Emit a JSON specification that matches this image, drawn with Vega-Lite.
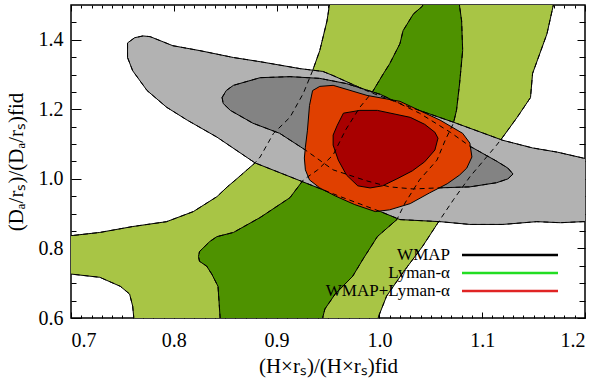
{
  "$schema": "https://vega.github.io/schema/vega-lite/v6.json",
  "width": 514,
  "height": 313,
  "autosize": {"type": "none"},
  "padding": {"left": 71, "top": 5, "right": 15, "bottom": 61},
  "config": {
    "view": {"stroke": "black", "strokeWidth": 1.5},
    "axis": {"grid": false, "domain": false, "zindex": 1, "labelFont": "Liberation Serif", "titleFont": "Liberation Serif", "labelFontSize": 20, "titleFontSize": 21, "titleFontWeight": "normal", "labelColor": "black", "titleColor": "black", "tickColor": "black", "tickWidth": 1},
    "legend": {"orient": "none", "legendX": 429.5, "legendY": 240.5, "padding": 0, "symbolType": "M-6,0H6", "symbolSize": 256, "symbolStrokeWidth": 2.5, "rowPadding": -2, "labelFont": "Liberation Serif", "labelFontSize": 17, "labelColor": "black", "labelAlign": "right", "labelOffset": -69.5, "labelLimit": 0, "symbolOpacity": 1}
  },
  "datasets": {
    "c": [
      {"g":"LG","i":0,"x":0.761,"y":0.569},{"g":"LG","i":1,"x":0.761,"y":0.603},{"g":"LG","i":2,"x":0.760,"y":0.634},{"g":"LG","i":3,"x":0.757,"y":0.669},{"g":"LG","i":4,"x":0.748,"y":0.691},{"g":"LG","i":5,"x":0.728,"y":0.717},{"g":"LG","i":6,"x":0.701,"y":0.726},{"g":"LG","i":7,"x":0.689,"y":0.729},{"g":"LG","i":8,"x":0.689,"y":0.837},{"g":"LG","i":9,"x":0.701,"y":0.837},{"g":"LG","i":10,"x":0.728,"y":0.846},{"g":"LG","i":11,"x":0.760,"y":0.863},{"g":"LG","i":12,"x":0.793,"y":0.877},{"g":"LG","i":13,"x":0.819,"y":0.906},{"g":"LG","i":14,"x":0.842,"y":0.949},{"g":"LG","i":15,"x":0.852,"y":0.977},{"g":"LG","i":16,"x":0.860,"y":0.997},{"g":"LG","i":17,"x":0.879,"y":1.046},{"g":"LG","i":18,"x":0.884,"y":1.063},{"g":"LG","i":19,"x":0.897,"y":1.131},{"g":"LG","i":20,"x":0.913,"y":1.177},{"g":"LG","i":21,"x":0.926,"y":1.246},{"g":"LG","i":22,"x":0.935,"y":1.311},{"g":"LG","i":23,"x":0.942,"y":1.369},{"g":"LG","i":24,"x":0.949,"y":1.454},{"g":"LG","i":25,"x":0.952,"y":1.511},{"g":"LG","i":26,"x":0.953,"y":1.554},{"g":"LG","i":27,"x":1.172,"y":1.554},{"g":"LG","i":28,"x":1.169,"y":1.497},{"g":"LG","i":29,"x":1.163,"y":1.417},{"g":"LG","i":30,"x":1.149,"y":1.303},{"g":"LG","i":31,"x":1.147,"y":1.234},{"g":"LG","i":32,"x":1.134,"y":1.177},{"g":"LG","i":33,"x":1.120,"y":1.120},{"g":"LG","i":34,"x":1.114,"y":1.097},{"g":"LG","i":35,"x":1.088,"y":1.006},{"g":"LG","i":36,"x":1.072,"y":0.940},{"g":"LG","i":37,"x":1.059,"y":0.883},{"g":"LG","i":38,"x":1.042,"y":0.806},{"g":"LG","i":39,"x":1.023,"y":0.731},{"g":"LG","i":40,"x":1.007,"y":0.663},{"g":"LG","i":41,"x":0.999,"y":0.603},{"g":"LG","i":42,"x":0.997,"y":0.569},{"g":"LG","i":43,"x":0.761,"y":0.569},
      {"g":"DG","i":0,"x":1.042,"y":1.554},{"g":"DG","i":1,"x":1.042,"y":1.497},{"g":"DG","i":2,"x":1.033,"y":1.474},{"g":"DG","i":3,"x":1.023,"y":1.426},{"g":"DG","i":4,"x":1.020,"y":1.389},{"g":"DG","i":5,"x":1.010,"y":1.331},{"g":"DG","i":6,"x":1.004,"y":1.303},{"g":"DG","i":7,"x":0.993,"y":1.249},{"g":"DG","i":8,"x":0.981,"y":1.206},{"g":"DG","i":9,"x":0.967,"y":1.140},{"g":"DG","i":10,"x":0.955,"y":1.069},{"g":"DG","i":11,"x":0.940,"y":1.026},{"g":"DG","i":12,"x":0.926,"y":0.997},{"g":"DG","i":13,"x":0.913,"y":0.946},{"g":"DG","i":14,"x":0.884,"y":0.889},{"g":"DG","i":15,"x":0.858,"y":0.846},{"g":"DG","i":16,"x":0.842,"y":0.834},{"g":"DG","i":17,"x":0.835,"y":0.820},{"g":"DG","i":18,"x":0.825,"y":0.791},{"g":"DG","i":19,"x":0.824,"y":0.777},{"g":"DG","i":20,"x":0.825,"y":0.763},{"g":"DG","i":21,"x":0.832,"y":0.749},{"g":"DG","i":22,"x":0.837,"y":0.726},{"g":"DG","i":23,"x":0.843,"y":0.691},{"g":"DG","i":24,"x":0.845,"y":0.603},{"g":"DG","i":25,"x":0.845,"y":0.569},{"g":"DG","i":26,"x":0.945,"y":0.569},{"g":"DG","i":27,"x":0.945,"y":0.603},{"g":"DG","i":28,"x":0.947,"y":0.626},{"g":"DG","i":29,"x":0.957,"y":0.669},{"g":"DG","i":30,"x":0.974,"y":0.720},{"g":"DG","i":31,"x":0.984,"y":0.769},{"g":"DG","i":32,"x":0.998,"y":0.834},{"g":"DG","i":33,"x":1.017,"y":0.883},{"g":"DG","i":34,"x":1.025,"y":0.931},{"g":"DG","i":35,"x":1.039,"y":0.997},{"g":"DG","i":36,"x":1.056,"y":1.054},{"g":"DG","i":37,"x":1.064,"y":1.111},{"g":"DG","i":38,"x":1.072,"y":1.160},{"g":"DG","i":39,"x":1.075,"y":1.197},{"g":"DG","i":40,"x":1.078,"y":1.274},{"g":"DG","i":41,"x":1.081,"y":1.369},{"g":"DG","i":42,"x":1.080,"y":1.454},{"g":"DG","i":43,"x":1.078,"y":1.497},{"g":"DG","i":44,"x":1.077,"y":1.554},{"g":"DG","i":45,"x":1.042,"y":1.554},
      {"g":"LGr","i":0,"x":0.755,"y":1.349},{"g":"LGr","i":1,"x":0.755,"y":1.391},{"g":"LGr","i":2,"x":0.762,"y":1.406},{"g":"LGr","i":3,"x":0.770,"y":1.411},{"g":"LGr","i":4,"x":0.777,"y":1.409},{"g":"LGr","i":5,"x":0.799,"y":1.383},{"g":"LGr","i":6,"x":0.825,"y":1.369},{"g":"LGr","i":7,"x":0.858,"y":1.349},{"g":"LGr","i":8,"x":0.884,"y":1.337},{"g":"LGr","i":9,"x":0.923,"y":1.317},{"g":"LGr","i":10,"x":0.945,"y":1.309},{"g":"LGr","i":11,"x":0.955,"y":1.297},{"g":"LGr","i":12,"x":0.991,"y":1.249},{"g":"LGr","i":13,"x":1.030,"y":1.206},{"g":"LGr","i":14,"x":1.072,"y":1.163},{"g":"LGr","i":15,"x":1.120,"y":1.111},{"g":"LGr","i":16,"x":1.149,"y":1.089},{"g":"LGr","i":17,"x":1.173,"y":1.077},{"g":"LGr","i":18,"x":1.198,"y":1.060},{"g":"LGr","i":19,"x":1.215,"y":1.051},{"g":"LGr","i":20,"x":1.215,"y":0.877},{"g":"LGr","i":21,"x":1.198,"y":0.877},{"g":"LGr","i":22,"x":1.176,"y":0.874},{"g":"LGr","i":23,"x":1.153,"y":0.877},{"g":"LGr","i":24,"x":1.120,"y":0.869},{"g":"LGr","i":25,"x":1.088,"y":0.869},{"g":"LGr","i":26,"x":1.059,"y":0.877},{"g":"LGr","i":27,"x":1.020,"y":0.883},{"g":"LGr","i":28,"x":1.001,"y":0.906},{"g":"LGr","i":29,"x":0.962,"y":0.949},{"g":"LGr","i":30,"x":0.926,"y":0.991},{"g":"LGr","i":31,"x":0.879,"y":1.046},{"g":"LGr","i":32,"x":0.842,"y":1.120},{"g":"LGr","i":33,"x":0.813,"y":1.169},{"g":"LGr","i":34,"x":0.793,"y":1.206},{"g":"LGr","i":35,"x":0.774,"y":1.254},{"g":"LGr","i":36,"x":0.760,"y":1.311},{"g":"LGr","i":37,"x":0.755,"y":1.349},
      {"g":"DGr","i":0,"x":0.847,"y":1.234},{"g":"DGr","i":1,"x":0.851,"y":1.254},{"g":"DGr","i":2,"x":0.858,"y":1.269},{"g":"DGr","i":3,"x":0.884,"y":1.291},{"g":"DGr","i":4,"x":0.913,"y":1.294},{"g":"DGr","i":5,"x":0.942,"y":1.289},{"g":"DGr","i":6,"x":0.968,"y":1.274},{"g":"DGr","i":7,"x":1.001,"y":1.243},{"g":"DGr","i":8,"x":1.039,"y":1.189},{"g":"DGr","i":9,"x":1.069,"y":1.134},{"g":"DGr","i":10,"x":1.088,"y":1.094},{"g":"DGr","i":11,"x":1.114,"y":1.051},{"g":"DGr","i":12,"x":1.125,"y":1.031},{"g":"DGr","i":13,"x":1.130,"y":1.014},{"g":"DGr","i":14,"x":1.125,"y":1.000},{"g":"DGr","i":15,"x":1.114,"y":0.989},{"g":"DGr","i":16,"x":1.088,"y":0.977},{"g":"DGr","i":17,"x":1.056,"y":0.974},{"g":"DGr","i":18,"x":1.033,"y":0.971},{"g":"DGr","i":19,"x":1.010,"y":0.977},{"g":"DGr","i":20,"x":0.988,"y":0.994},{"g":"DGr","i":21,"x":0.955,"y":1.026},{"g":"DGr","i":22,"x":0.928,"y":1.083},{"g":"DGr","i":23,"x":0.903,"y":1.131},{"g":"DGr","i":24,"x":0.877,"y":1.160},{"g":"DGr","i":25,"x":0.855,"y":1.197},{"g":"DGr","i":26,"x":0.848,"y":1.217},{"g":"DGr","i":27,"x":0.847,"y":1.234},
      {"g":"OR","i":0,"x":0.935,"y":1.254},{"g":"OR","i":1,"x":0.942,"y":1.266},{"g":"OR","i":2,"x":0.955,"y":1.269},{"g":"OR","i":3,"x":0.988,"y":1.240},{"g":"OR","i":4,"x":1.020,"y":1.223},{"g":"OR","i":5,"x":1.059,"y":1.169},{"g":"OR","i":6,"x":1.081,"y":1.131},{"g":"OR","i":7,"x":1.088,"y":1.103},{"g":"OR","i":8,"x":1.090,"y":1.063},{"g":"OR","i":9,"x":1.085,"y":1.031},{"g":"OR","i":10,"x":1.078,"y":1.011},{"g":"OR","i":11,"x":1.066,"y":0.986},{"g":"OR","i":12,"x":1.049,"y":0.960},{"g":"OR","i":13,"x":1.030,"y":0.929},{"g":"OR","i":14,"x":1.010,"y":0.911},{"g":"OR","i":15,"x":0.996,"y":0.906},{"g":"OR","i":16,"x":0.976,"y":0.926},{"g":"OR","i":17,"x":0.957,"y":0.951},{"g":"OR","i":18,"x":0.942,"y":0.974},{"g":"OR","i":19,"x":0.932,"y":0.997},{"g":"OR","i":20,"x":0.928,"y":1.026},{"g":"OR","i":21,"x":0.927,"y":1.060},{"g":"OR","i":22,"x":0.928,"y":1.091},{"g":"OR","i":23,"x":0.930,"y":1.140},{"g":"OR","i":24,"x":0.932,"y":1.211},{"g":"OR","i":25,"x":0.935,"y":1.254},
      {"g":"DR","i":0,"x":0.965,"y":1.189},{"g":"DR","i":1,"x":0.981,"y":1.197},{"g":"DR","i":2,"x":0.998,"y":1.197},{"g":"DR","i":3,"x":1.030,"y":1.177},{"g":"DR","i":4,"x":1.044,"y":1.157},{"g":"DR","i":5,"x":1.054,"y":1.134},{"g":"DR","i":6,"x":1.057,"y":1.117},{"g":"DR","i":7,"x":1.054,"y":1.083},{"g":"DR","i":8,"x":1.044,"y":1.049},{"g":"DR","i":9,"x":1.032,"y":1.023},{"g":"DR","i":10,"x":1.017,"y":1.000},{"g":"DR","i":11,"x":1.003,"y":0.980},{"g":"DR","i":12,"x":0.991,"y":0.974},{"g":"DR","i":13,"x":0.979,"y":0.980},{"g":"DR","i":14,"x":0.968,"y":1.011},{"g":"DR","i":15,"x":0.960,"y":1.054},{"g":"DR","i":16,"x":0.955,"y":1.097},{"g":"DR","i":17,"x":0.955,"y":1.126},{"g":"DR","i":18,"x":0.959,"y":1.154},{"g":"DR","i":19,"x":0.965,"y":1.189}
    ],
    "legend": [{"series": "WMAP"}, {"series": "Lyman-α"}, {"series": "WMAP+Lyman-α"}]
  },
  "resolve": {"axis": {"x": "independent", "y": "independent"}},
  "layer": [
    {
      "data": {"name": "c"},
      "transform": [{"filter": "datum.g == 'LG'"}],
      "mark": {"type": "line", "fill": "#a8c545", "stroke": "black", "strokeWidth": 1, "clip": true},
      "encoding": {
        "x": {"field": "x", "type": "quantitative", "scale": {"domain": [0.7, 1.2], "nice": false, "zero": false},
              "axis": {"orient": "bottom", "values": [0.7, 0.8, 0.9, 1.0, 1.1, 1.2], "format": ".1f", "offset": -6, "tickSize": 6, "labelPadding": 12, "title": "(H×rₛ)/(H×rₛ)fid", "titlePadding": 5}},
        "y": {"field": "y", "type": "quantitative", "scale": {"domain": [0.6, 1.5], "nice": false, "zero": false},
              "axis": {"orient": "left", "values": [0.6, 0.8, 1.0, 1.2, 1.4], "format": ".1f", "offset": -10, "tickSize": 10, "labelPadding": 8, "title": "(Dₐ/rₛ)/(Dₐ/rₛ)fid", "titlePadding": 12}},
        "order": {"field": "i", "type": "quantitative"}
      }
    },
    {
      "data": {"name": "c"},
      "transform": [{"filter": "datum.g == 'DG'"}],
      "mark": {"type": "line", "fill": "#4e9200", "stroke": "black", "strokeWidth": 1, "clip": true},
      "encoding": {
        "x": {"field": "x", "type": "quantitative", "scale": {"domain": [0.7, 1.2], "nice": false, "zero": false},
              "axis": {"orient": "bottom", "values": [0.71,0.72,0.73,0.74,0.75,0.76,0.77,0.78,0.79,0.81,0.82,0.83,0.84,0.85,0.86,0.87,0.88,0.89,0.91,0.92,0.93,0.94,0.95,0.96,0.97,0.98,0.99,1.01,1.02,1.03,1.04,1.05,1.06,1.07,1.08,1.09,1.11,1.12,1.13,1.14,1.15,1.16,1.17,1.18,1.19], "labels": false, "offset": -3, "tickSize": 3, "title": null}},
        "y": {"field": "y", "type": "quantitative", "scale": {"domain": [0.6, 1.5], "nice": false, "zero": false},
              "axis": {"orient": "left", "values": [0.65,0.7,0.75,0.85,0.9,0.95,1.05,1.1,1.15,1.25,1.3,1.35,1.45], "labels": false, "offset": -5, "tickSize": 5, "title": null}},
        "order": {"field": "i", "type": "quantitative"}
      }
    },
    {
      "data": {"name": "c"},
      "transform": [{"filter": "datum.g == 'LGr'"}],
      "mark": {"type": "line", "fill": "#b2b2b2", "stroke": "black", "strokeWidth": 1, "clip": true},
      "encoding": {
        "x": {"field": "x", "type": "quantitative", "scale": {"domain": [0.7, 1.2], "nice": false, "zero": false},
              "axis": {"orient": "top", "values": [0.7, 0.8, 0.9, 1.0, 1.1, 1.2], "labels": false, "offset": -6, "tickSize": 6, "title": null}},
        "y": {"field": "y", "type": "quantitative", "scale": {"domain": [0.6, 1.5], "nice": false, "zero": false},
              "axis": {"orient": "right", "values": [0.6, 0.8, 1.0, 1.2, 1.4], "labels": false, "offset": -8, "tickSize": 8, "title": null}},
        "order": {"field": "i", "type": "quantitative"}
      }
    },
    {
      "data": {"name": "c"},
      "transform": [{"filter": "datum.g == 'DGr'"}],
      "mark": {"type": "line", "fill": "#838383", "stroke": "black", "strokeWidth": 1, "clip": true},
      "encoding": {
        "x": {"field": "x", "type": "quantitative", "scale": {"domain": [0.7, 1.2], "nice": false, "zero": false},
              "axis": {"orient": "top", "values": [0.71,0.72,0.73,0.74,0.75,0.76,0.77,0.78,0.79,0.81,0.82,0.83,0.84,0.85,0.86,0.87,0.88,0.89,0.91,0.92,0.93,0.94,0.95,0.96,0.97,0.98,0.99,1.01,1.02,1.03,1.04,1.05,1.06,1.07,1.08,1.09,1.11,1.12,1.13,1.14,1.15,1.16,1.17,1.18,1.19], "labels": false, "offset": -3, "tickSize": 3, "title": null}},
        "y": {"field": "y", "type": "quantitative", "scale": {"domain": [0.6, 1.5], "nice": false, "zero": false},
              "axis": {"orient": "right", "values": [0.65,0.7,0.75,0.85,0.9,0.95,1.05,1.1,1.15,1.25,1.3,1.35,1.45], "labels": false, "offset": -6, "tickSize": 6, "title": null}},
        "order": {"field": "i", "type": "quantitative"}
      }
    },
    {
      "data": {"name": "c"},
      "transform": [{"filter": "datum.g == 'OR'"}],
      "mark": {"type": "line", "fill": "#e04000", "stroke": "black", "strokeWidth": 1, "clip": true},
      "encoding": {
        "x": {"field": "x", "type": "quantitative", "scale": {"domain": [0.7, 1.2], "nice": false, "zero": false}, "axis": null},
        "y": {"field": "y", "type": "quantitative", "scale": {"domain": [0.6, 1.5], "nice": false, "zero": false}, "axis": null},
        "order": {"field": "i", "type": "quantitative"}
      }
    },
    {
      "data": {"name": "c"},
      "transform": [{"filter": "datum.g == 'DR'"}],
      "mark": {"type": "line", "fill": "#a80000", "stroke": "black", "strokeWidth": 1, "clip": true},
      "encoding": {
        "x": {"field": "x", "type": "quantitative", "scale": {"domain": [0.7, 1.2], "nice": false, "zero": false}, "axis": null},
        "y": {"field": "y", "type": "quantitative", "scale": {"domain": [0.6, 1.5], "nice": false, "zero": false}, "axis": null},
        "order": {"field": "i", "type": "quantitative"}
      }
    },
    {
      "data": {"name": "c"},
      "transform": [{"filter": "datum.g == 'LG' || datum.g == 'DG' || datum.g == 'LGr' || datum.g == 'DGr'"}],
      "mark": {"type": "line", "stroke": "black", "strokeWidth": 1, "strokeDash": [5, 4], "clip": true},
      "encoding": {
        "x": {"field": "x", "type": "quantitative", "scale": {"domain": [0.7, 1.2], "nice": false, "zero": false}, "axis": null},
        "y": {"field": "y", "type": "quantitative", "scale": {"domain": [0.6, 1.5], "nice": false, "zero": false}, "axis": null},
        "detail": {"field": "g", "type": "nominal"},
        "order": {"field": "i", "type": "quantitative"}
      }
    },
    {
      "mark": {"type": "rule", "stroke": "black", "strokeWidth": 0.8, "strokeDash": [1, 2]},
      "encoding": {
        "x": {"datum": 1.0, "type": "quantitative", "scale": {"domain": [0.7, 1.2], "nice": false, "zero": false}, "axis": null}
      }
    },
    {
      "mark": {"type": "rule", "stroke": "black", "strokeWidth": 0.8, "strokeDash": [1, 2]},
      "encoding": {
        "y": {"datum": 1.0, "type": "quantitative", "scale": {"domain": [0.6, 1.5], "nice": false, "zero": false}, "axis": null}
      }
    },
    {
      "data": {"name": "legend"},
      "mark": {"type": "rule", "clip": true},
      "encoding": {
        "x": {"datum": 0.5, "type": "quantitative", "scale": {"domain": [0.7, 1.2], "nice": false, "zero": false}, "axis": null},
        "color": {"field": "series", "type": "nominal", "scale": {"domain": ["WMAP", "Lyman-α", "WMAP+Lyman-α"], "range": ["#000000", "#22dd22", "#e02424"]}, "legend": {"title": null}}
      }
    }
  ]
}
